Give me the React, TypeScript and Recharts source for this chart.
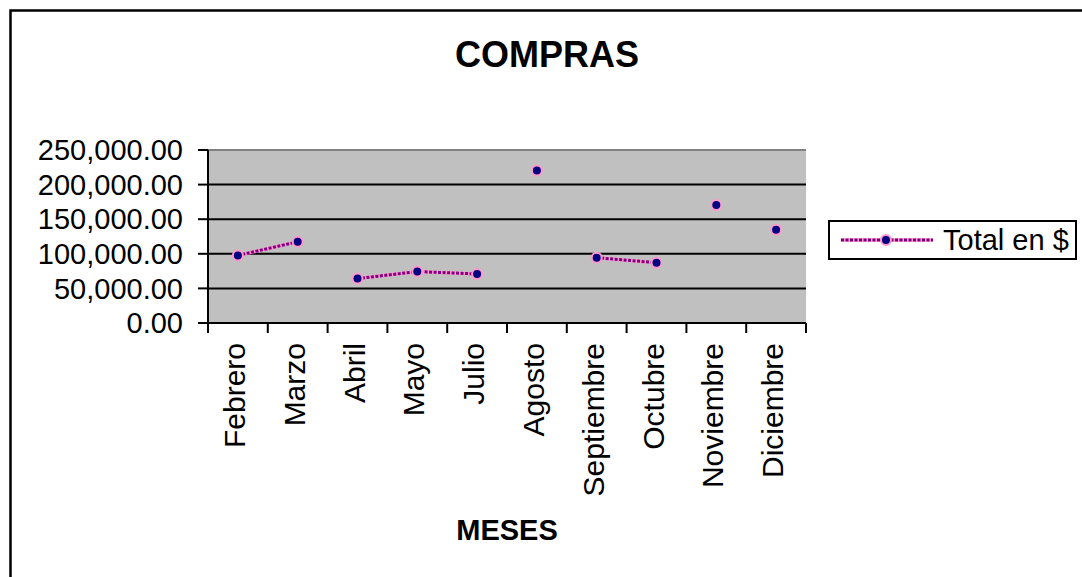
import { ComposedChart, Line, XAxis, YAxis, CartesianGrid, Legend, ReferenceLine } from "recharts";

const months = [
  "Febrero",
  "Marzo",
  "Abril",
  "Mayo",
  "Julio",
  "Agosto",
  "Septiembre",
  "Octubre",
  "Noviembre",
  "Diciembre",
];
const totals = [97700, 117400, 64200, 74300, 70900, 220300, 94400, 87200, 170500, 134600];
// which run of connected points each month belongs to (the line breaks between runs)
const runOf = [0, 0, 1, 1, 1, 2, 3, 3, 4, 5];
const yTicks = [0, 50000, 100000, 150000, 200000, 250000];
const gridValues = [50000, 100000, 150000, 200000];

const FONT = "'Liberation Sans', Arial, sans-serif";

const linkedRuns = Array.from(new Set(runOf)).filter(
  (r) => runOf.filter((x) => x === r).length > 1
);

const data = months.map((month, i) => {
  const row: Record<string, any> = { month, total: totals[i] };
  linkedRuns.forEach((r) => {
    row[`run${r}`] = runOf[i] === r ? totals[i] : null;
  });
  return row;
});

const fmt = (v: number) =>
  v.toLocaleString("en-US", { minimumFractionDigits: 2, maximumFractionDigits: 2 });

// label at the band centre, tick marks on the band edges (Excel style)
const MonthTick = (props: any) => {
  const { x, y, payload, index, visibleTicksCount, width } = props;
  const half = width / visibleTicksCount / 2;
  const bx = x + 7;
  const by = y + 20;
  return (
    <g>
      <line x1={x - half} x2={x - half} y1={y} y2={y + 10} stroke="#000" strokeWidth={2} />
      {index === visibleTicksCount - 1 && (
        <line x1={x + half} x2={x + half} y1={y} y2={y + 10} stroke="#000" strokeWidth={2} />
      )}
      <text
        x={bx}
        y={by}
        transform={`rotate(-90 ${bx} ${by})`}
        textAnchor="end"
        fontSize={30}
        fontFamily={FONT}
        fill="#000"
      >
        {payload.value}
      </text>
    </g>
  );
};

const MarkerDot = (props: any) => {
  const { cx, cy, index } = props;
  if (cx == null || cy == null) return <g key={index} />;
  return <circle key={index} cx={cx} cy={cy} r={5} fill="#000080" stroke="#ff99cc" strokeWidth={2} />;
};

const LegendBox = () => (
  <div style={{ width: 271, height: 40, paddingLeft: 22, boxSizing: "border-box" }}>
    <div
      style={{
        width: 249,
        height: 40,
        border: "2px solid #000",
        boxSizing: "border-box",
        background: "#fff",
      }}
    >
      <svg width={245} height={36} style={{ display: "block" }}>
        <line x1={11} x2={103} y1={18} y2={18} stroke="#ff99cc" strokeWidth={3.5} />
        <line x1={11} x2={103} y1={18} y2={18} stroke="#800080" strokeWidth={3} strokeDasharray="3 1.5" />
        <circle cx={56} cy={18} r={5} fill="#000080" stroke="#ff99cc" strokeWidth={2} />
        <text x={113} y={28} fontSize={29} fontFamily={FONT} fill="#000">
          Total en $
        </text>
      </svg>
    </div>
  </div>
);

export default function App() {
  return (
    <div style={{ position: "absolute", left: 0, top: 0, background: "#fff" }}>
      <ComposedChart
        width={1082}
        height={577}
        data={data}
        margin={{ top: 150, right: 5, bottom: 4, left: 10 }}
      >
        <rect x={10.5} y={10.5} width={1200} height={700} fill="none" stroke="#000" strokeWidth={2.5} />
        <text x={547} y={67} textAnchor="middle" fontSize={36} fontWeight="bold" fontFamily={FONT} fill="#000">
          COMPRAS
        </text>
        <text x={507} y={540} textAnchor="middle" fontSize={29} fontWeight="bold" fontFamily={FONT} fill="#000">
          MESES
        </text>
        <CartesianGrid
          vertical={false}
          horizontalValues={gridValues}
          stroke="#000"
          strokeWidth={2}
          fill="#c0c0c0"
          fillOpacity={1}
        />
        <XAxis
          dataKey="month"
          scale="band"
          height={250}
          interval={0}
          tickSize={0}
          tickMargin={0}
          axisLine={{ stroke: "#000", strokeWidth: 2 }}
          tickLine={false}
          tick={<MonthTick />}
        />
        <YAxis
          width={198}
          domain={[0, 250000]}
          ticks={yTicks}
          interval={0}
          tickFormatter={fmt}
          tickSize={10}
          tickMargin={15}
          tick={{ fill: "#000", fontSize: 29, fontFamily: FONT }}
          tickLine={{ stroke: "#000", strokeWidth: 2 }}
          axisLine={{ stroke: "#000", strokeWidth: 2 }}
        />
        <ReferenceLine y={250000} stroke="#808080" strokeWidth={2} />
        {linkedRuns.map((r) => [
          <Line
            key={`u${r}`}
            dataKey={`run${r}`}
            stroke="#ff99cc"
            strokeWidth={3.5}
            dot={false}
            activeDot={false}
            legendType="none"
            isAnimationActive={false}
          />,
          <Line
            key={`p${r}`}
            dataKey={`run${r}`}
            stroke="#800080"
            strokeWidth={3}
            strokeDasharray="3 1.5"
            dot={false}
            activeDot={false}
            legendType="none"
            isAnimationActive={false}
          />,
        ])}
        <Line
          dataKey="total"
          name="Total en $"
          stroke="none"
          dot={<MarkerDot />}
          activeDot={false}
          isAnimationActive={false}
        />
        <Legend
          layout="vertical"
          align="right"
          verticalAlign="top"
          wrapperStyle={{ top: 220, right: 5 }}
          content={<LegendBox />}
        />
      </ComposedChart>
    </div>
  );
}
